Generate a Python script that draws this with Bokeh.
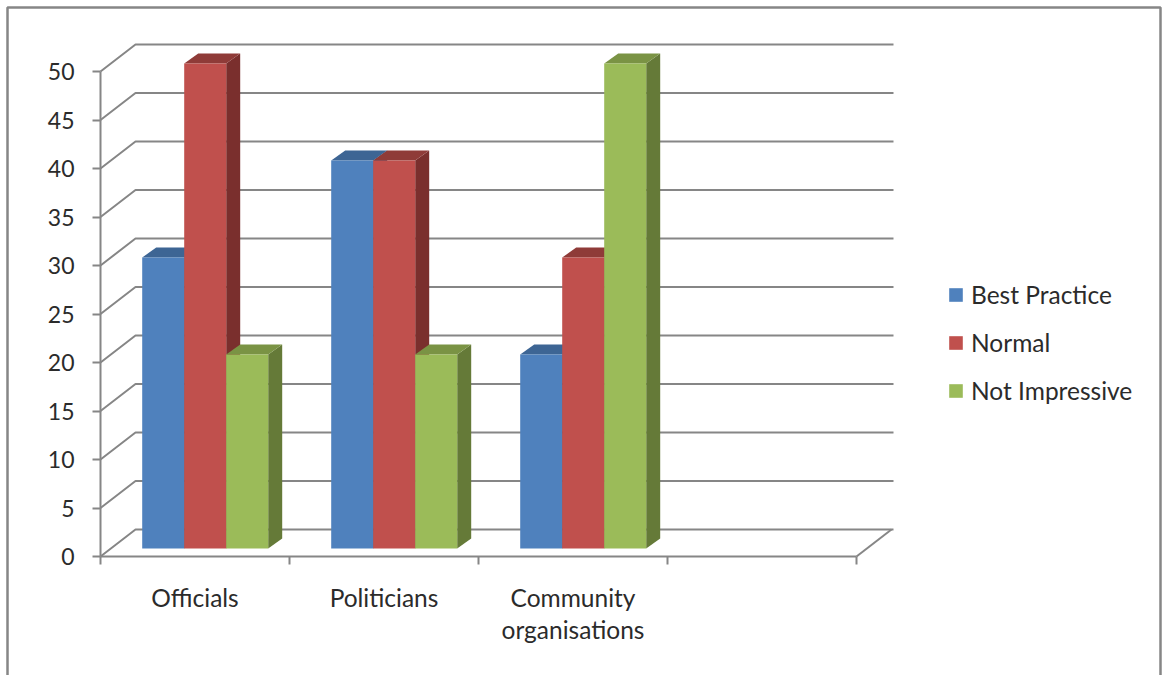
from bokeh.embed import file_html
from bokeh.models import BoxAnnotation, FixedTicker, Legend, LegendItem, Range1d
from bokeh.plotting import figure
from bokeh.resources import INLINE

categories = ["Officials", "Politicians", "Community\norganisations"]
category_slots = 4
series_names = ["Best Practice", "Normal", "Not Impressive"]
best_practice = [30, 40, 20]
normal = [50, 40, 30]
not_impressive = [20, 20, 50]
value_ticks = list(range(0, 55, 5))

front_colors = ["#4F81BD", "#C0504D", "#9BBB59"]
top_colors = ["#3D6594", "#8F3B38", "#7A9344"]
side_colors = ["#2F4F77", "#7A2F2D", "#657A38"]
AXIS_GRAY = "#868686"
TEXT_COLOR = "#2B2B2B"
FONT = "Lato"
VALUE_FONT_SIZE = "23px"
LABEL_FONT_SIZE = "24.5px"

WIDTH, HEIGHT = 1162, 675

# Pixel scale of the two axes and where their origin sits on the page
PX_PER_SLOT = 189
PX_PER_UNIT = 9.7
ORIGIN_X, ORIGIN_Y = 100, 556

# Oblique projection offsets, in data units
WALL_DX = 35 / PX_PER_SLOT
WALL_DY = 27 / PX_PER_UNIT
WALL_END = 793 / PX_PER_SLOT
BAR_DX = 14 / PX_PER_SLOT
BAR_DY = 10 / PX_PER_UNIT
BAR_LIFT = 8 / PX_PER_UNIT
BAR_START = 41.7 / PX_PER_SLOT
BAR_W = 42 / PX_PER_SLOT

p = figure(
    width=WIDTH,
    height=HEIGHT,
    output_backend="svg",
    toolbar_location=None,
    x_range=Range1d(-ORIGIN_X / PX_PER_SLOT, (WIDTH - ORIGIN_X) / PX_PER_SLOT),
    y_range=Range1d(-(HEIGHT - ORIGIN_Y) / PX_PER_UNIT, ORIGIN_Y / PX_PER_UNIT),
    min_border=0,
    outline_line_color=None,
    background_fill_color="white",
)
p.grid.visible = False

# Back wall rules and the diagonals that join them to the value axis
for v in value_ticks:
    p.line([0, WALL_DX, WALL_END], [v, v + WALL_DY, v + WALL_DY],
           line_color=AXIS_GRAY, line_width=2)
p.line([category_slots, category_slots + WALL_DX], [0, WALL_DY],
       line_color=AXIS_GRAY, line_width=2)

# Bars: front face, top face and right side of each column
series = [best_practice, normal, not_impressive]
fronts = [[] for _ in series]
for g in range(len(categories)):
    for s, values in enumerate(series):
        v = values[g]
        x0 = g + BAR_START + s * BAR_W
        x1 = x0 + BAR_W
        y0 = BAR_LIFT
        y1 = y0 + v
        p.patch([x1, x1 + BAR_DX, x1 + BAR_DX, x1], [y0, y0 + BAR_DY, y1 + BAR_DY, y1],
                fill_color=side_colors[s], line_color=None)
        p.patch([x0, x0 + BAR_DX, x1 + BAR_DX, x1], [y1, y1 + BAR_DY, y1 + BAR_DY, y1],
                fill_color=top_colors[s], line_color=None)
        r = p.quad(left=[x0], right=[x1], bottom=[y0], top=[y1],
                   fill_color=front_colors[s], line_color=None)
        fronts[s].append(r)

legend_items = [LegendItem(label=name, renderers=[fronts[s][0]])
                for s, name in enumerate(series_names)]
legend = Legend(
    items=legend_items,
    location=(947, HEIGHT - 405),
    orientation="vertical",
    glyph_width=17,
    glyph_height=17,
    label_standoff=7,
    spacing=19,
    padding=0,
    margin=0,
    border_line_color=None,
    background_fill_alpha=0,
    label_text_font=FONT,
    label_text_font_size=LABEL_FONT_SIZE,
    label_text_color=TEXT_COLOR,
    label_height=28,
)
p.add_layout(legend, "center")

# Value axis
ya = p.yaxis[0]
ya.fixed_location = 0
ya.ticker = FixedTicker(ticks=value_ticks)
ya.bounds = (0, 50)
ya.axis_line_color = AXIS_GRAY
ya.axis_line_width = 2
ya.major_tick_line_color = AXIS_GRAY
ya.major_tick_line_width = 2
ya.major_tick_in = 0
ya.major_tick_out = 8
ya.minor_tick_line_color = None
ya.major_label_standoff = 18
ya.major_label_text_font = FONT
ya.major_label_text_font_size = VALUE_FONT_SIZE
ya.major_label_text_color = TEXT_COLOR

# Category axis: labels at slot centres, tick marks at slot edges
xa = p.xaxis[0]
xa.fixed_location = 0
centres = [i + 0.5 for i in range(len(categories))]
xa.ticker = FixedTicker(ticks=centres, minor_ticks=list(range(category_slots + 1)))
xa.major_label_overrides = dict(zip(centres, categories))
xa.bounds = (0, category_slots)
xa.axis_line_color = AXIS_GRAY
xa.axis_line_width = 2
xa.major_tick_line_color = None
xa.minor_tick_line_color = AXIS_GRAY
xa.minor_tick_line_width = 2
xa.minor_tick_in = 0
xa.minor_tick_out = 8
xa.major_tick_in = 0
xa.major_tick_out = 0
xa.major_label_standoff = 18
xa.major_label_text_font = FONT
xa.major_label_text_font_size = LABEL_FONT_SIZE
xa.major_label_text_color = TEXT_COLOR
xa.major_label_text_line_height = 1.12

# Chart-area border, open past the bottom edge of the page
p.add_layout(BoxAnnotation(
    left=7, right=1160, top=7, bottom=700,
    left_units="canvas", right_units="canvas", top_units="canvas", bottom_units="canvas",
    fill_color=None, fill_alpha=0, line_color=AXIS_GRAY, line_alpha=1, line_width=2.5,
))

open("out.html", "w").write(file_html(p, INLINE))
